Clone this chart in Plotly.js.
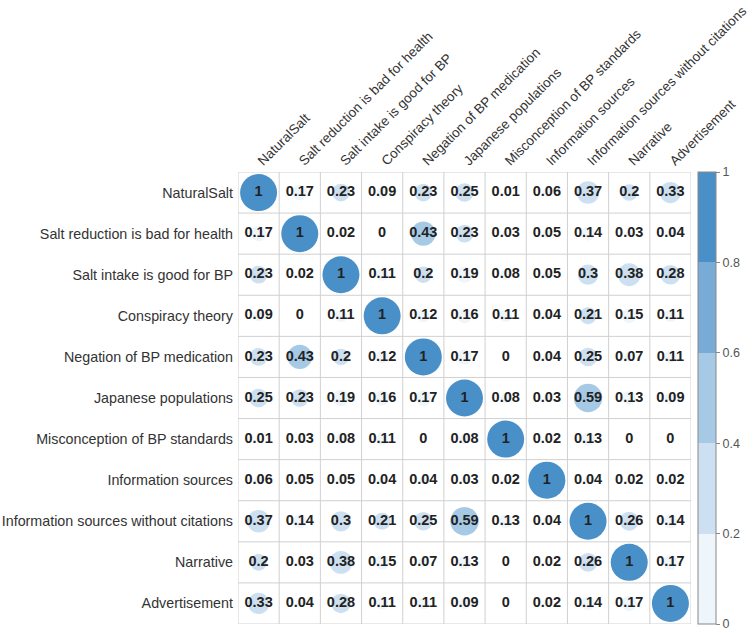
<!DOCTYPE html>
<html>
<head>
<meta charset="utf-8">
<script src="https://cdn.plot.ly/plotly-3.0.1.min.js"></script>
<style>html,body{margin:0;padding:0;background:#fff;}#chart{width:755px;height:633px;}</style>
</head>
<body>
<div id="chart"></div>
<script>
var labels = [
  "NaturalSalt",
  "Salt reduction is bad for health",
  "Salt intake is good for BP",
  "Conspiracy theory",
  "Negation of BP medication",
  "Japanese populations",
  "Misconception of BP standards",
  "Information sources",
  "Information sources without citations",
  "Narrative",
  "Advertisement"
];

var rowNaturalSalt      = [1, 0.17, 0.23, 0.09, 0.23, 0.25, 0.01, 0.06, 0.37, 0.2, 0.33];
var rowSaltReduction    = [0.17, 1, 0.02, 0, 0.43, 0.23, 0.03, 0.05, 0.14, 0.03, 0.04];
var rowSaltIntake       = [0.23, 0.02, 1, 0.11, 0.2, 0.19, 0.08, 0.05, 0.3, 0.38, 0.28];
var rowConspiracy       = [0.09, 0, 0.11, 1, 0.12, 0.16, 0.11, 0.04, 0.21, 0.15, 0.11];
var rowNegation         = [0.23, 0.43, 0.2, 0.12, 1, 0.17, 0, 0.04, 0.25, 0.07, 0.11];
var rowJapanese         = [0.25, 0.23, 0.19, 0.16, 0.17, 1, 0.08, 0.03, 0.59, 0.13, 0.09];
var rowMisconception    = [0.01, 0.03, 0.08, 0.11, 0, 0.08, 1, 0.02, 0.13, 0, 0];
var rowInfoSources      = [0.06, 0.05, 0.05, 0.04, 0.04, 0.03, 0.02, 1, 0.04, 0.02, 0.02];
var rowInfoNoCitations  = [0.37, 0.14, 0.3, 0.21, 0.25, 0.59, 0.13, 0.04, 1, 0.26, 0.14];
var rowNarrative        = [0.2, 0.03, 0.38, 0.15, 0.07, 0.13, 0, 0.02, 0.26, 1, 0.17];
var rowAdvertisement    = [0.33, 0.04, 0.28, 0.11, 0.11, 0.09, 0, 0.02, 0.14, 0.17, 1];

var matrix = [rowNaturalSalt, rowSaltReduction, rowSaltIntake, rowConspiracy, rowNegation,
  rowJapanese, rowMisconception, rowInfoSources, rowInfoNoCitations, rowNarrative, rowAdvertisement];

var colorbarTicks = [0, 0.2, 0.4, 0.6, 0.8, 1];

var binColors = ["#eef5fb", "#cde0f1", "#a6c9e5", "#78acd6", "#4a90c8"];
var colorscale = [];
for (var b = 0; b < binColors.length; b++) {
  colorscale.push([b / 5, binColors[b]]);
  colorscale.push([(b + 1) / 5, binColors[b]]);
}

var n = labels.length;
var xs = [], ys = [], vals = [], sizes = [], texts = [];
var maxDiam = 37;
for (var i = 0; i < n; i++) {
  for (var j = 0; j < n; j++) {
    var v = matrix[i][j];
    xs.push(j); ys.push(i); vals.push(v);
    sizes.push(maxDiam * Math.sqrt(Math.abs(v)));
    texts.push(String(v));
  }
}

var FONT = "Liberation Sans, Arial, sans-serif";

var circles = {
  type: "scatter", mode: "markers",
  x: xs, y: ys,
  marker: {
    size: sizes, sizemode: "diameter", opacity: 1,
    color: vals, colorscale: colorscale, cmin: 0, cmax: 1,
    line: {width: 0},
    showscale: true,
    colorbar: {
      x: 1.016, xanchor: "left", xpad: 0, y: 0.5, yanchor: "middle", ypad: 0,
      len: 1, lenmode: "fraction", thickness: 18, thicknessmode: "pixels",
      outlinecolor: "#888", outlinewidth: 1,
      tickvals: colorbarTicks, ticktext: colorbarTicks.map(String),
      ticks: "outside", ticklen: 4, tickcolor: "#888",
      tickfont: {family: FONT, size: 12.5, color: "#555"}
    }
  },
  hoverinfo: "skip", showlegend: false
};

var numbers = {
  type: "scatter", mode: "text",
  x: xs, y: ys, text: texts,
  textfont: {family: FONT, size: 14.5, color: "#222", weight: "bold"},
  textposition: "middle center",
  hoverinfo: "skip", showlegend: false
};

var shapes = [];
for (var k = 0; k <= n; k++) {
  shapes.push({type: "line", xref: "x", yref: "y", x0: k - 0.5, x1: k - 0.5, y0: -0.5, y1: n - 0.5,
    line: {color: "#d0d0d0", width: 1}, layer: "below"});
  shapes.push({type: "line", xref: "x", yref: "y", y0: k - 0.5, y1: k - 0.5, x0: -0.5, x1: n - 0.5,
    line: {color: "#d0d0d0", width: 1}, layer: "below"});
}

var idx = [];
for (var t = 0; t < n; t++) idx.push(t);

var layout = {
  width: 755, height: 633,
  margin: {l: 238, r: 64, t: 172, b: 9, pad: 0},
  paper_bgcolor: "#fff", plot_bgcolor: "#fff",
  xaxis: {
    range: [-0.5, n - 0.5], side: "top", tickvals: idx, ticktext: labels,
    tickangle: -45, showgrid: false, zeroline: false, showline: false, ticks: "",
    ticklabeloverflow: "allow",
    tickfont: {family: FONT, size: 13.5, color: "#333"},
    fixedrange: true
  },
  yaxis: {
    range: [n - 0.5, -0.5], tickvals: idx, ticktext: labels,
    showgrid: false, zeroline: false, showline: false, ticks: "",
    ticklabelstandoff: 4, ticklabeloverflow: "allow",
    tickfont: {family: FONT, size: 14.3, color: "#333"},
    fixedrange: true
  },
  shapes: shapes
};

Plotly.newPlot("chart", [circles, numbers], layout, {displayModeBar: false, staticPlot: true});
</script>
</body>
</html>
